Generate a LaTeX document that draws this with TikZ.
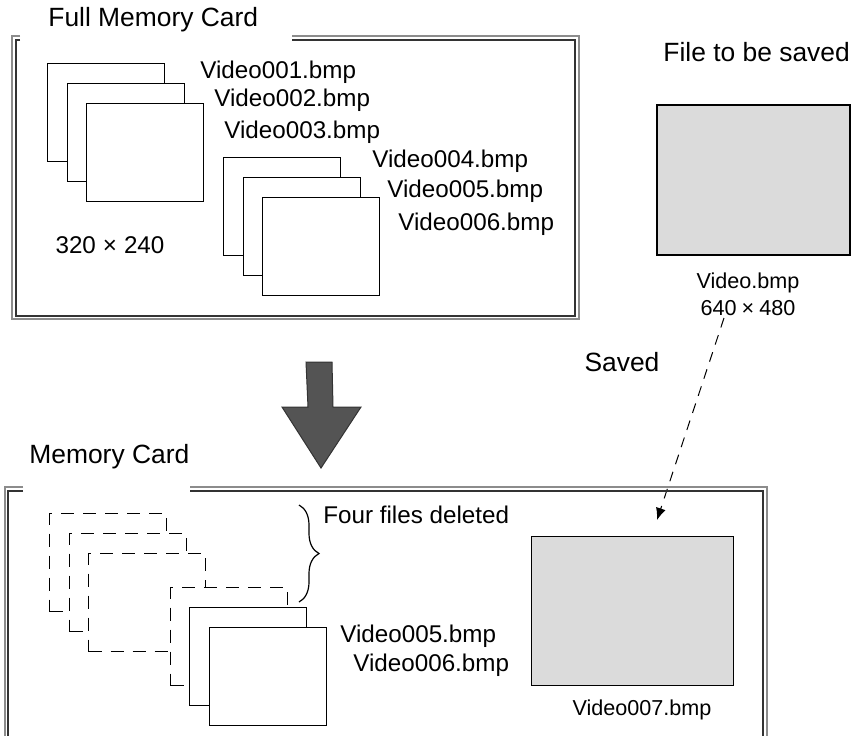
\documentclass[tikz,border=0pt]{standalone}
\usepackage{fontspec}
\setmainfont{Liberation Sans}
\usetikzlibrary{arrows.meta,positioning,decorations.pathreplacing}

\begin{document}
\begin{tikzpicture}[
  x=0.5pt,y=-0.5pt,
  node distance=3.5pt and 4pt,
  card/.style={draw,fill=white,anchor=north west,minimum width=58.5pt,
               minimum height=49pt,inner sep=0pt,line width=0.6pt},
  gone/.style={card,dash pattern=on 6.5pt off 4.5pt},
  fname/.style={anchor=west,inner sep=0pt,font=\fontsize{12.1}{14}\selectfont},
  head/.style={anchor=west,inner sep=0pt,font=\fontsize{13.2}{15}\selectfont},
  small/.style={inner sep=0pt,font=\fontsize{10.8}{12}\selectfont},
  outer/.style={draw=black!45,line width=0.6pt},
  inner/.style={draw=black!80,line width=0.6pt},
  image/.style={draw,fill=black!14,anchor=north west,inner sep=0pt},
  save/.style={-{Latex[length=6pt,width=5pt]},dash pattern=on 5pt off 4pt,line width=0.5pt}
]
\useasboundingbox (0,0) rectangle (851,736);

% full card
\draw[outer] (20,36) -| (12,319) -| (579,36) -- (292,36);
\draw[inner] (20,40) -| (16,316) -| (575,40) -- (292,40);
\node[head] (fullcard) at (48,20) {Full Memory Card};
\node[card] (c1) at (47,63) {};
\node[card] (c2) at (67,83) {};
\node[card] (c3) at (86,103) {};
\node[card] (c4) at (223,157) {};
\node[card] (c5) at (243,177) {};
\node[card] (c6) at (262,197) {};
\node[fname] (f1) at (200,72) {Video001.bmp};
\node[fname] (f2) at (214,100) {Video002.bmp};
\node[fname] (f3) at (224,132) {Video003.bmp};
\node[fname] (f4) at (372,161) {Video004.bmp};
\node[fname] (f5) at (387,191) {Video005.bmp};
\node[fname] (f6) at (398,224) {Video006.bmp};
\node[fname,anchor=center] (lowres) at (110,245) {320\hspace{3.5pt}×\hspace{3.5pt}240};

% new file
\node[head] (tosave) at (663,52) {File to be saved};
\node[image,line width=1.2pt,minimum width=96.5pt,minimum height=75pt] (newimg) at (656,104) {};
\node[small] (vname) at (748,283) {Video.bmp};
\node[small,below=of vname] (vsize) {640\hspace{2.5pt}×\hspace{2.5pt}480};
\node[head,anchor=center] (saved) at (622,362) {Saved};
\coordinate (savefrom) at (724,318);
\coordinate (saveto) at (657,520);
\draw[save] (savefrom) -- (saveto);

% big arrow
\draw[fill=black!67,draw=black!80,line width=0.5pt] (306,362) -- (332,362) -- (333,407)
  -- (361,407) -- (321,468) -- (282,407) -- (308,407) -- cycle;

% card after saving
\draw[outer] (23,487) -| (5,736);
\draw[outer] (190,487) -| (767,736);
\draw[inner] (23,491) -| (8,736);
\draw[inner] (190,491) -| (763,736);
\node[head] (card) at (29,457) {Memory Card};
\node[gone] (d1) at (49,513) {};
\node[gone] (d2) at (69,533) {};
\node[gone] (d3) at (88,553) {};
\node[gone] (d4) at (170,587) {};
\node[card] (k5) at (189,607) {};
\node[card] (k6) at (209,627) {};
\draw[decorate,decoration={brace,amplitude=10pt,aspect=0.5},line width=0.6pt]
  (299,505) -- (299,602);
\node[fname] (deleted) at (323,515) {Four files deleted};
\node[fname] (g5) at (340,636) {Video005.bmp};
\node[fname] (g6) at (353,665) {Video006.bmp};
\node[image,line width=0.7pt,minimum width=101pt,minimum height=74.5pt] (savedimg) at (531,536) {};
\node[small] (g7) at (642,710) {Video007.bmp};
\end{tikzpicture}
\end{document}
